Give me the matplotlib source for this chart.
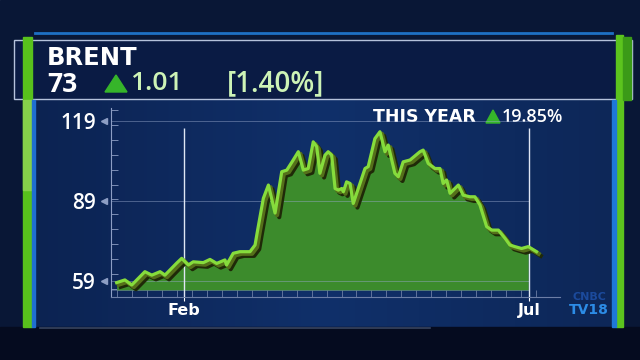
import matplotlib.pyplot as plt
import matplotlib.patheffects as pe
from matplotlib.patches import Rectangle, Polygon
from matplotlib.colors import LinearSegmentedColormap
import numpy as np

# brent close, day of year (2022)
days = [2.7, 6.3, 9.3, 15.0, 18.0, 21.6, 23.7, 28.8, 31.0, 33.9, 36.0, 40.4,
        43.3, 46.2, 49.8, 50.5, 53.4, 56.3, 60.7, 62.9, 64.0, 66.5, 68.7,
        71.6, 74.5, 76.7, 79.5, 81.7, 83.9, 86.0, 88.2, 89.7, 91.1, 93.3,
        94.7, 96.2, 97.7, 99.1, 100.6, 101.3, 102.7, 104.2, 105.6, 110.7,
        112.1, 115.0, 117.2, 119.4, 120.8, 123.7, 125.2, 127.3, 130.3, 134.6,
        136.0, 138.2, 141.1, 143.3, 144.7, 146.2, 147.7, 151.3, 153.4, 156.3,
        158.5, 160.7, 163.6, 165.8, 168.7, 171.6, 173.7, 175.9, 178.8, 181.7,
        185.3]
brent = [58.4, 59.4, 57.5, 62.5, 61.2, 62.5, 61.2, 65.7, 67.5, 65.0, 66.2, 65.9,
         67.1, 65.6, 66.9, 65.0, 69.4, 70.0, 70.0, 72.5, 78.0, 90.0, 95.0,
         84.5, 100.0, 100.6, 104.4, 107.5, 100.6, 101.2, 111.2, 109.4, 99.4, 106.2,
         107.5, 106.2, 93.7, 93.1, 93.7, 92.5, 96.2, 95.6, 88.1, 101.2,
         101.9, 112.4, 115.0, 107.5, 110.0, 99.4, 98.1, 103.7, 104.4, 107.5,
         108.1, 103.1, 101.2, 101.2, 95.6, 96.9, 91.9, 95.0, 91.2, 90.6,
         90.6, 87.5, 79.4, 78.1, 78.1, 75.0, 72.5, 71.9, 71.2, 71.9,
         70.0]
y_labels = [59, 89, 119]
month_days = [32, 182]
month_labels = ["Feb", "Jul"]

name = "BRENT"
last_price = "73"
change = "1.01"
change_pct = "[1.40%]"
ytd_label = "THIS YEAR"
ytd_pct = "19.85%"

days = np.array(days)
brent = np.array(brent)

W, H = 640, 360
fig = plt.figure(figsize=(6.4, 3.6), dpi=100)
bg = fig.add_axes([0, 0, 1, 1])
bg.set_xlim(0, W)
bg.set_ylim(H, 0)
bg.axis('off')

# background
bg.add_patch(Rectangle((0, 0), W, H, color='#091736', zorder=0))
panel = LinearSegmentedColormap.from_list('panel', ['#0c2352', '#10306a', '#0d2758'])
grad = np.linspace(0, 1, 256).reshape(1, -1)
bg.imshow(grad, cmap=panel, extent=(35, 612, 327, 100), aspect='auto', zorder=1)
bg.add_patch(Rectangle((0, 327), W, 33, color='#050b1f', zorder=2))
bg.plot([40, 430], [328, 328], color='#5a6a8a', lw=1.2, alpha=0.6, zorder=2)

# header box
bg.add_patch(Rectangle((14, 40), 618, 59, facecolor='#0a1b44', edgecolor='#b5c2dc',
                       lw=1, zorder=3))
bg.plot([35, 612], [33, 33], color='#1e70c4', lw=2, zorder=3)

# green side bars
bg.add_patch(Rectangle((23, 37), 9, 290, color='#58c11c', zorder=4))
bg.add_patch(Rectangle((23, 100), 9, 90, color='#86d14a', zorder=4))
bg.add_patch(Rectangle((32, 100), 3, 227, color='#1f6fd0', zorder=4))
bg.add_patch(Rectangle((616, 35), 7, 292, color='#5cc41e', zorder=4))
bg.add_patch(Rectangle((623, 37), 8, 63, color='#3b9a18', zorder=4))
bg.add_patch(Rectangle((612, 100), 4, 227, color='#1e78d8', zorder=4))

# header text
bg.text(47, 58, name, color='white', fontsize=17.5, fontweight='bold',
        family='DejaVu Sans', va='center', zorder=5)
bg.text(47, 84, last_price, color='white', fontsize=19, fontweight='bold',
        family='Open Sans', va='center', zorder=5)
bg.add_patch(Polygon([(105, 92), (127, 92), (116, 75)], color='#36b52a', zorder=5))
bg.text(130, 84, change, color='#cdf3b6', fontsize=19, fontweight='semibold',
        family='Open Sans', va='center', zorder=5)
bg.text(227, 84, change_pct, color='#cdf3b6', fontsize=20, fontweight='semibold',
        family='Open Sans', va='center', zorder=5)

bg.text(373, 117, ytd_label, color='white', fontsize=12.5, fontweight='bold',
        family='DejaVu Sans', va='center', zorder=5)
bg.add_patch(Polygon([(486, 123), (500, 123), (493, 110)], color='#36b52a', zorder=5))
bg.text(502, 117, ytd_pct, color='white', fontsize=13, fontweight='semibold',
        family='Open Sans', va='center', zorder=5)

# logo
bg.text(589, 297, "CNBC", color='#1b4a9c', fontsize=8, fontweight='bold',
        ha='center', va='center', zorder=5)
bg.text(589, 310, "TV18", color='#2c8ce6', fontsize=10, fontweight='bold',
        ha='center', va='center', zorder=5)

# chart
def px_box(x0, y0, x1, y1):
    return [x0 / W, 1 - y1 / H, (x1 - x0) / W, (y1 - y0) / H]

ax = fig.add_axes(px_box(111, 108, 560, 297))
ax.patch.set_alpha(0)
ax.set_xlim(0.26, 195.5)
ax.set_ylim(53, 123.9)
base = 55.6

for s in ['top', 'right']:
    ax.spines[s].set_visible(False)
ax.spines['left'].set_color('#8d9ec4')
ax.spines['bottom'].set_color('#6c7ea6')

ax.fill_between(days, brent, base, where=days <= 182, color='#3c8b2c', lw=0, zorder=2)
ax.plot(days, brent, color='#86dc3c', lw=2.3, solid_joinstyle='round', zorder=4,
        path_effects=[pe.SimpleLineShadow(offset=(3, -3), shadow_color='#1f2a08',
                                          alpha=1, linewidth=3),
                      pe.SimpleLineShadow(offset=(1.5, -1.5), shadow_color='#55701a',
                                          alpha=1, linewidth=3),
                      pe.Normal()])

ax.hlines(y_labels, 0.26, 182, color='#9aaace', lw=0.7, alpha=0.45, zorder=3)
ax.hlines(base, 0.26, 182, color='#9aaace', lw=0.7, alpha=0.35, zorder=3)
ax.vlines(month_days, 53, 116.5, color='#dfe6f4', lw=1, zorder=3)

ax.set_yticks(y_labels)
ax.set_yticklabels([str(v) for v in y_labels], family='Open Sans',
                   fontweight='semibold', fontsize=15, color='white')
ax.set_yticks(np.arange(56, 124, 5.6), minor=True)
ax.tick_params(axis='y', which='major', length=0, pad=11)
ax.tick_params(axis='y', which='minor', direction='in', length=5, color='#8d9ec4')
ax.plot(np.full(len(y_labels), -0.016), y_labels, marker='<', ls='none', ms=4,
        color='#8d9ec4', transform=ax.get_yaxis_transform(), clip_on=False)

ax.set_xticks(month_days)
ax.set_xticklabels(month_labels, family='DejaVu Sans', fontweight='bold',
                   fontsize=11.5, color='white')
ax.set_xticks(np.arange(3, 190, 6.5), minor=True)
ax.tick_params(axis='x', which='major', length=3, direction='out', color='white', pad=1)
ax.tick_params(axis='x', which='minor', direction='in', length=5, color='#6c7ea6')

fig.savefig('out.png', dpi=100)
